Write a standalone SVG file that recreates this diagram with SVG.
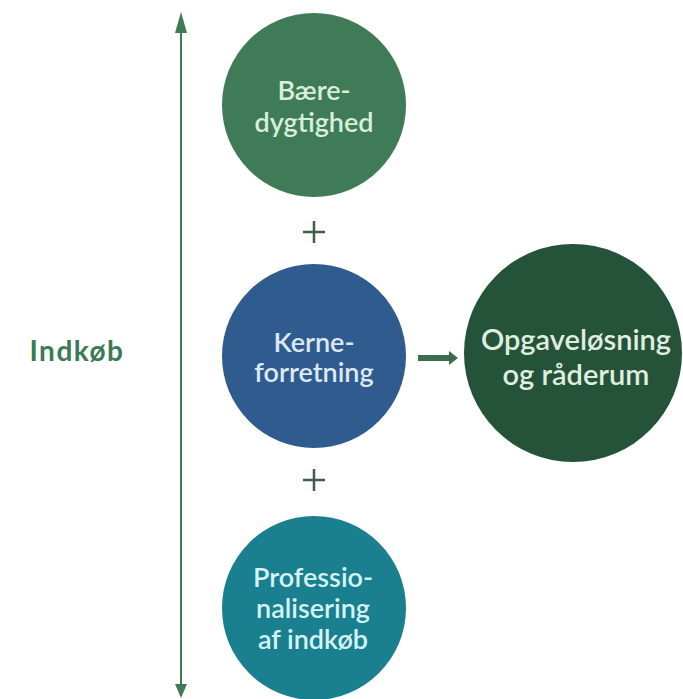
<svg xmlns="http://www.w3.org/2000/svg" width="683" height="699" viewBox="0 0 683 699">
<style>
.lbl{font-family:Lato,"Open Sans","Liberation Sans",sans-serif;text-anchor:middle;font-weight:600;}
.side{font-weight:bold;}
.plus{stroke:#3d5e48;stroke-width:2.5;fill:none;}
.axis{fill:#3f7a55;}
</style>
<rect width="683" height="699" fill="#ffffff"/>
<g id="connectors">
<line x1="181" y1="30" x2="181" y2="686" stroke="#3f7a55" stroke-width="2"/>
<polygon class="axis" points="181,12 175,33 187,33"/>
<polygon class="axis" points="181,698 175,684 187,684"/>
<rect x="418" y="355" width="33" height="6" fill="#3d6b4d"/>
<polygon points="449,351 458,358 449,365" fill="#3d6b4d"/>
<path class="plus" d="M303 232 H325 M314 221 V243"/>
<path class="plus" d="M303 480 H325 M314 469 V491"/>
</g>
<g id="indkob">
<text class="lbl side" x="77" y="361" font-size="28" fill="#3a7a55" letter-spacing="1.5">Indkøb</text>
</g>
<g id="baeredygtighed">
<circle cx="314" cy="105" r="92" fill="#3f7b57"/>
<text class="lbl" x="314" y="100" font-size="27" fill="#d8efd9">Bære-</text>
<text class="lbl" x="314" y="132" font-size="27" fill="#d8efd9">dygtighed</text>
</g>
<g id="kerneforretning">
<circle cx="314" cy="356" r="92" fill="#305b8e"/>
<text class="lbl" x="314" y="352" font-size="27" fill="#dde8f5">Kerne-</text>
<text class="lbl" x="314" y="382" font-size="27" fill="#dde8f5">forretning</text>
</g>
<g id="professionalisering">
<circle cx="314" cy="608" r="92" fill="#1a7f8e"/>
<text class="lbl" x="313" y="587" font-size="27" fill="#d5f2f5">Professio-</text>
<text class="lbl" x="313" y="618" font-size="27" fill="#d5f2f5">nalisering</text>
<text class="lbl" x="313" y="649" font-size="27" fill="#d5f2f5">af indkøb</text>
</g>
<g id="opgavelosning">
<circle cx="573" cy="353" r="109" fill="#24533a"/>
<text class="lbl" x="576" y="350" font-size="29" fill="#e0eee0">Opgaveløsning</text>
<text class="lbl" x="576" y="385" font-size="29" fill="#e0eee0">og råderum</text>
</g>
</svg>
